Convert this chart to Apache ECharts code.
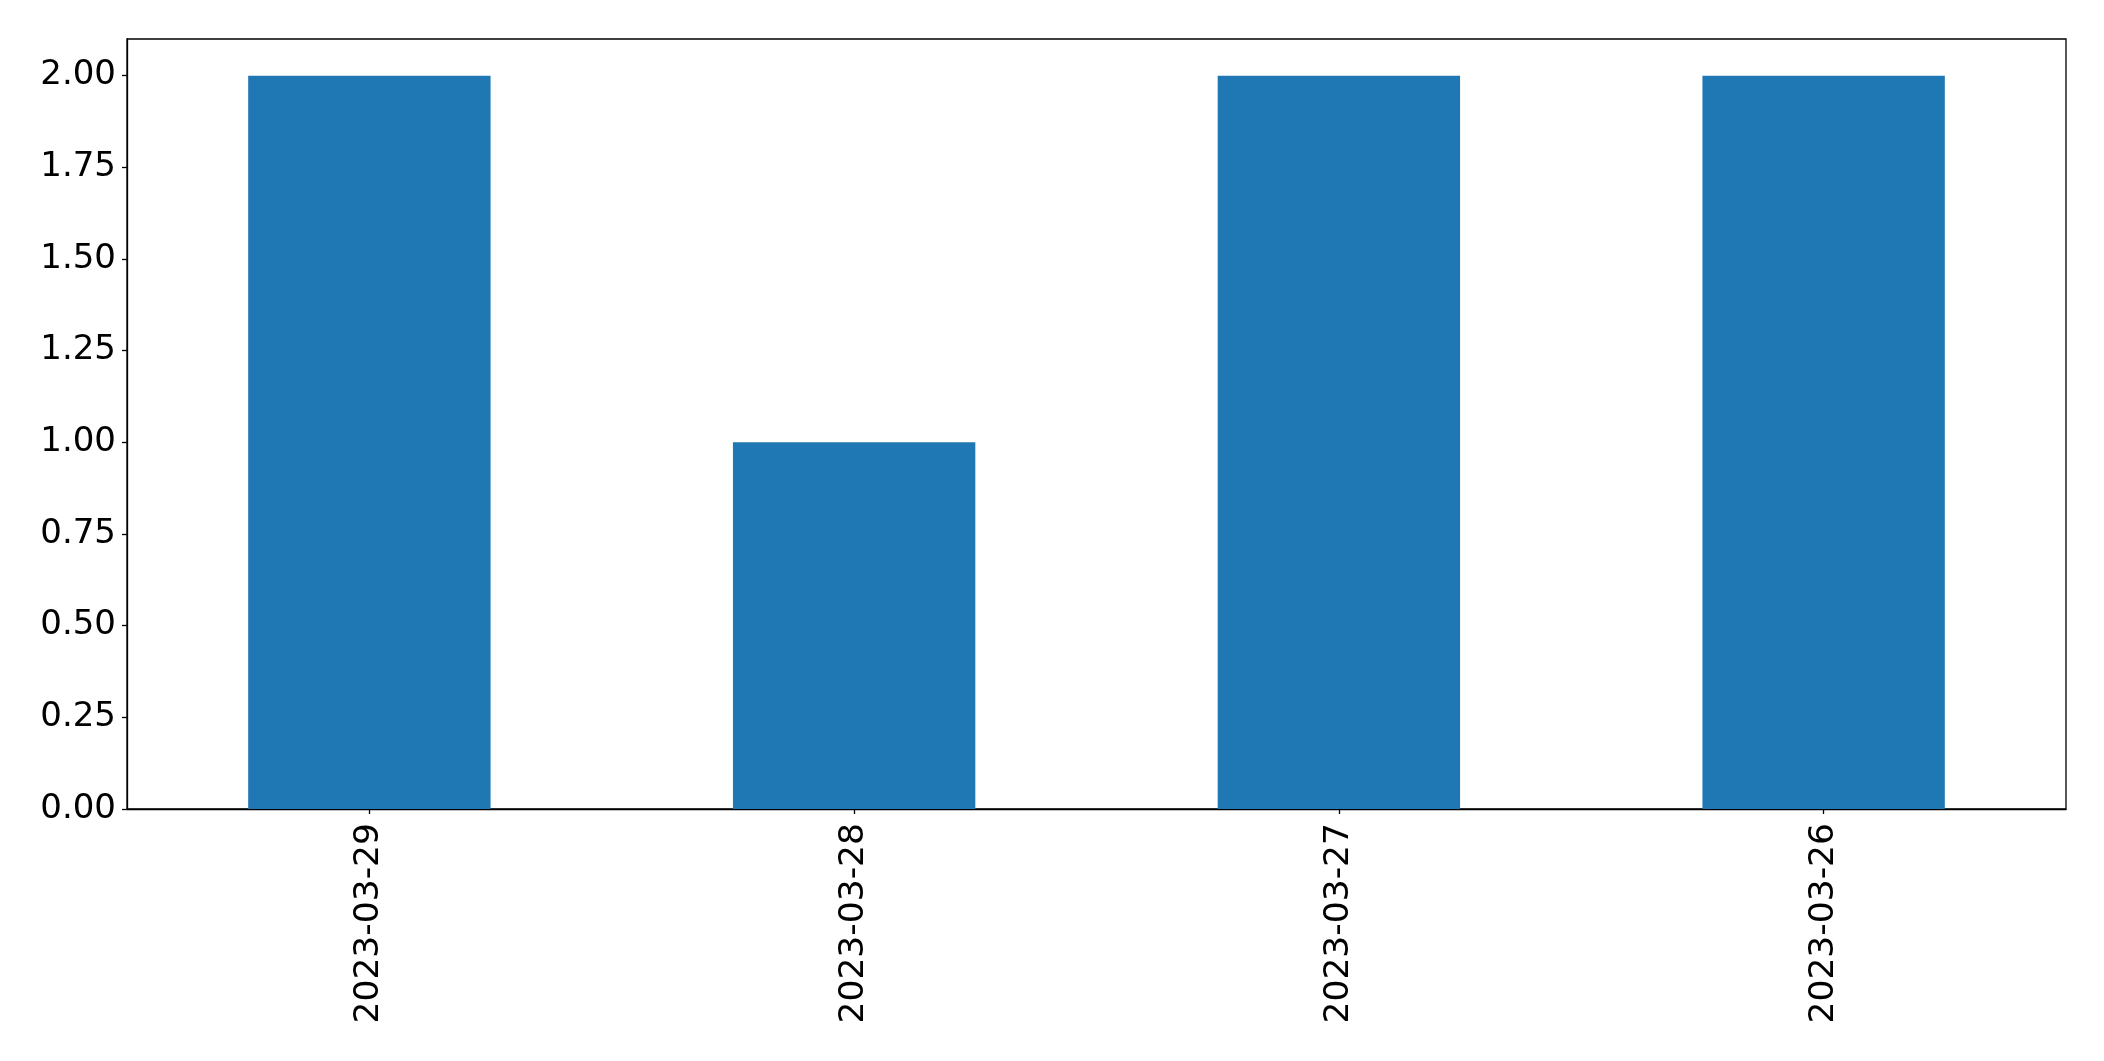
<!DOCTYPE html>
<html><head><meta charset="utf-8">
<script src="https://cdn.jsdelivr.net/npm/echarts@6/dist/echarts.min.js"></script>
<style>html,body{margin:0;padding:0;background:#fff}#c{width:2104px;height:1061px}</style>
</head><body><div id="c"></div>
<script>
const categories = ['2023-03-29', '2023-03-28', '2023-03-27', '2023-03-26'];
const values = [2, 1, 2, 2];
const yTicks = [0, 0.25, 0.5, 0.75, 1.0, 1.25, 1.5, 1.75, 2.0];

const chart = echarts.init(document.getElementById('c'), null, {renderer: 'canvas'});
chart.setOption({
  animation: false,
  backgroundColor: '#ffffff',
  grid: {left: 127, top: 39, right: 38, bottom: 252, show: true, borderColor: '#000', borderWidth: 1.3, backgroundColor: 'transparent'},
  xAxis: {
    type: 'category', data: categories,
    axisLine: {show: true, lineStyle: {color: '#000', width: 1.3}},
    axisTick: {show: true, alignWithLabel: true, length: 5, lineStyle: {color: '#000', width: 1.3}},
    axisLabel: {rotate: 90, margin: 14, color: '#000', fontSize: 34.5, fontFamily: 'DejaVu Sans'},
    splitLine: {show: false}
  },
  yAxis: {
    type: 'value', min: 0, max: 2.1,
    axisLine: {show: true, lineStyle: {color: '#000', width: 1.3}},
    axisTick: {show: true, length: 5, customValues: yTicks, lineStyle: {color: '#000', width: 1.3}},
    axisLabel: {customValues: yTicks, margin: 11, color: '#000', fontSize: 34, fontFamily: 'DejaVu Sans',
      formatter: v => v.toFixed(2)},
    splitLine: {show: false}
  },
  series: [{
    type: 'bar', data: values, barWidth: '50%',
    itemStyle: {color: '#1f77b4'}
  }]
});
</script></body></html>
